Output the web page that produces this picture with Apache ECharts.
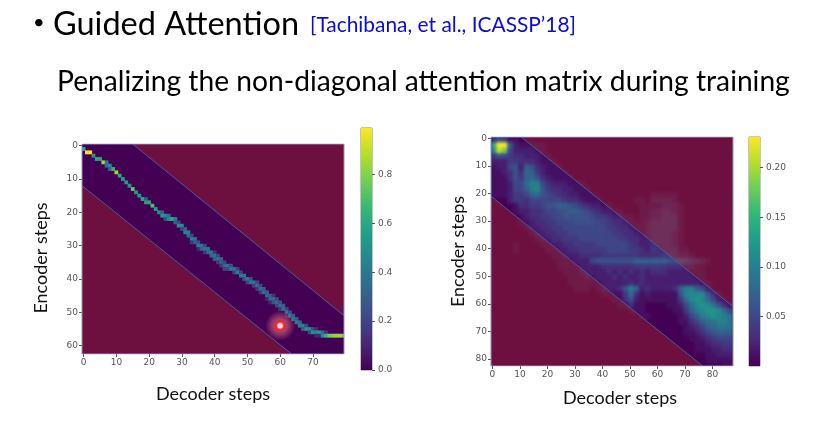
<!DOCTYPE html>
<html><head><meta charset="utf-8">
<style>html,body{margin:0;background:#fff}#chart{width:830px;height:430px;filter:blur(.5px)}</style>
<script src="https://cdn.jsdelivr.net/npm/echarts@6/dist/echarts.min.js"></script>
</head><body><div id="chart"></div>
<script>
const viridis=['#440154','#482878','#3e4989','#31688e','#26828e','#1f9e89','#35b779','#6ece58','#b5de2b','#fde725'];
const heading='Guided Attention', citation='[Tachibana, et al., ICASSP’18]', subtitle='Penalizing the non-diagonal attention matrix during training';
const xName='Decoder steps', yName='Encoder steps';
const leftBarTicks=[0,0.2,0.4,0.6,0.8], rightBarTicks=[0.05,0.1,0.15,0.2];
const leftMax=0.99, rightMax=0.231;
const leftCols=80, leftRows=63, rightCols=88, rightRowsCount=83;
// left matrix: one entry per decoder step: [first encoder row, cell values...]
const leftPath=[[1,.6],[2,.97],[2,.98],[3,.55],[4,.6],[4,.58],[5,.85],[5,.4,.35],[6,.5,.3],[7,.65],
[8,.85],[9,.6],[10,.55],[11,.55],[12,.55],[13,.75],[14,.55],[15,.55],[16,.6],[16,.3,.55],
[17,.6],[18,.7],[19,.55],[20,.5],[20,.3,.55],[21,.5,.25],[21,.35,.5],[22,.62],[22,.45,.3],[23,.2,.5],
[24,.5,.2],[25,.3,.45],[26,.45,.35],[27,.2,.45,.15],[28,.4,.3],[29,.25,.45,.1],[30,.4,.3],[30,.2,.42,.15],[31,.38,.35],[32,.4,.3],
[32,.15,.38,.3],[33,.2,.38,.15],[34,.3,.3,.15],[35,.2,.35,.2],[36,.4,.2],[36,.25,.4],[37,.42,.2],[37,.2,.45],[38,.2,.4],[39,.42,.25],
[40,.45,.2],[40,.25,.4],[41,.4,.2],[41,.2,.38,.15],[42,.2,.38,.15],[43,.3,.35],[44,.3,.35,.1],[45,.3,.35,.1],[45,.15,.35,.25],[46,.2,.35,.2],
[47,.25,.35,.15],[48,.3,.38],[49,.2,.4,.1],[50,.25,.42],[51,.3,.42],[52,.3,.42],[53,.35,.42],[54,.45,.3],[54,.2,.5],[55,.48,.2],
[55,.25,.5],[55,.12,.5,.1],[56,.55,.1],[56,.35,.5],[56,.15,.65],[57,.75],[57,.8],[57,.83],[57,.85],[57,.8]];
// right matrix: each string is 2 encoder steps; each character covers 2 decoder steps, in hundredths (a=10 ... n=23)
const rightGrid=[
"365110","enn7211111","bli5222211","46543322211","222443332111","1225627632 111","1123638742 1111","1113647863 21111",
"1112558aa5 3222111","1112557ab6 43322111","1112445786 5433221110 0000000001 1111",
"0002443555 5554332111 0000001102 2221",
"0000133445 6677654322 1100000111 1222 1",
"0000122334 5566776543 2211000112 23321",
"0000012334 4556666654 4322110112 23331",
"0000011233 4455566665 5433211123 33331",
"0000001223 3445555555 5443321123 33331",
"0000000122 3344555555 5544332123 33321",
"0000000012 2334445555 5554433223 33321",
"0000100001 1223344445 5555543223 33321",
"0000100000 1122334444 4555544324 333311",
"0000000000 0112223333 4444444333 3443221",
"0000000000 0011122256 6666667777 7766654321",
"0000000000 0011112222 3333334444 4433322110",
"0000000000 0001112222 2323232323 3322221110",
"0000000000 0000111212 2232322322 2222222110",
"0000000000 0000111111 2222232322 2222222211",
"0000000000 0000011101 2223 6a7 232 2223 7aa752",
"0000000000 0000000000 1111 483 121 1111 6abbb6 3100",
"0000000000 0000000000 0011 362 111 1111 48bcb8 5210",
"0000000000 0000000000 0001 131 100 0011 259bcb 9631",
"0000000000 0000000000 0000011100 0001 147abc cb85",
"0000000000 0000000000 0000000110 0000 1257ab cba9",
"0000000000 0000000000 0000000000 0000 113578 9aa9",
"0000000000 0000000000 0000000000 0000 012357 8999",
"0000000000 0000000000 0000000000 0000 011235 6777",
"0000000000 0000000000 0000000000 0000 001123 4555",
"0000000000 0000000000 0000000000 0000 000112 3344",
"0000000000 0000000000 0000000000 0000 000111 2233",
"0000000000 0000000000 0000000000 0000 000001 1222",
"0000000000 0000000000 0000000000 0000 000001 1111",
"0000000000 0000000000 0000000000 0000 000000 0011"];
const leftUpperMask=[[15,-.5],[79.5,-.5],[79.5,51]], leftLowerMask=[[-.5,12],[63.5,62.5],[-.5,62.5]];
const rightUpperMask=[[10.5,-.5],[87.5,-.5],[87.5,61]], rightLowerMask=[[-.5,21],[76.5,82.5],[-.5,82.5]];
const cursorPoint=[60,54];

const range=n=>Array.from({length:n},(_,i)=>String(i));
const leftData=[];
leftPath.forEach((e,c)=>e.slice(1).forEach((v,k)=>leftData.push([c,e[0]+k,v])));
const rightData=[];
rightGrid.forEach((s,r)=>{const t=s.replace(/ /g,'');
  for(let c=0;c<t.length;c++){const v=parseInt(t[c],24)/100;
    if(!v)continue;
    for(let dx=0;dx<2;dx++)for(let dy=0;dy<2;dy++){const x=c*2+dx,y=r*2+dy;
      if(x<rightCols&&y<rightRowsCount)rightData.push([x,y,v]);}}});

const frameCol='#8794bf', tickCol='#555', maskCol='rgba(205,54,17,.3)', edgeCol='#4a5a9e';
const font='"DejaVu Sans"';
const TOP=3;
const grids=[
 {left:82,top:144,width:262,height:210,show:true,backgroundColor:'#440154',borderWidth:0,zlevel:0},
 {left:82,top:144,width:262,height:210,zlevel:TOP},
 {left:361,top:128,width:11,height:242,show:true,borderColor:'#8a8a6a',borderWidth:1,backgroundColor:'transparent',zlevel:TOP},
 {left:491,top:137,width:242,height:229,show:true,backgroundColor:'#440154',borderWidth:0,zlevel:0},
 {left:491,top:137,width:242,height:229,zlevel:TOP},
 {left:749,top:137,width:11,height:229,show:true,borderColor:'#8a8a8a',borderWidth:1,backgroundColor:'transparent',zlevel:TOP}];
const tickShow=i=>i%10===0;
const catX=(g,n,gap,pad)=>({type:'category',gridIndex:g,zlevel:TOP,data:range(n),position:'bottom',splitLine:{show:false},axisLine:{show:false},
  axisTick:{show:true,length:3,alignWithLabel:true,interval:tickShow,lineStyle:{color:tickCol}},
  axisLabel:{interval:tickShow,fontSize:9,color:tickCol,fontFamily:font,margin:4},
  name:xName,nameLocation:'middle',nameGap:gap,nameTextStyle:{fontFamily:'Lato',fontSize:18,color:'#111',padding:pad}});
const catY=(g,n,gap,pad)=>({type:'category',gridIndex:g,zlevel:TOP,data:range(n),inverse:true,splitLine:{show:false},axisLine:{show:false},
  axisTick:{show:true,length:3,alignWithLabel:true,interval:tickShow,lineStyle:{color:tickCol}},
  axisLabel:{interval:tickShow,fontSize:9,color:tickCol,fontFamily:font,margin:4},
  name:yName,nameLocation:'middle',nameGap:gap,nameTextStyle:{fontFamily:'Lato',fontSize:18,color:'#111',padding:pad}});
const hideX=(g,max)=>({type:'value',gridIndex:g,min:-.5,max,show:false,splitLine:{show:false}});
const hideY=(g,max)=>({type:'value',gridIndex:g,min:-.5,max,inverse:true,show:false,splitLine:{show:false}});
const barX=g=>({type:'category',gridIndex:g,data:['scale'],show:false});
const barY=(g,max,ticks,dp)=>({type:'value',gridIndex:g,zlevel:TOP,min:0,max,position:'right',splitLine:{show:false},axisLine:{show:false},
  axisTick:{show:true,length:3,customValues:ticks,lineStyle:{color:tickCol}},
  axisLabel:{customValues:ticks,formatter:v=>v.toFixed(dp),fontSize:9,color:tickCol,fontFamily:font,margin:6}});
const maskSeries=(g,polys)=>({type:'custom',zlevel:TOP,xAxisIndex:g,yAxisIndex:g,z:3,silent:true,clip:false,data:polys.map((_,i)=>[i]),
  renderItem:(p,api)=>({type:'polygon',shape:{points:polys[p.dataIndex].map(q=>api.coord(q))},style:{fill:maskCol}})});
const edge=(g,pts,col)=>({type:'line',zlevel:TOP,xAxisIndex:g,yAxisIndex:g,z:4,silent:true,symbol:'none',data:pts,lineStyle:{color:col,width:1}});
const barSeries=(g,v)=>({type:'bar',zlevel:TOP,xAxisIndex:g,yAxisIndex:g,barWidth:'100%',silent:true,data:[v],
  itemStyle:{color:new echarts.graphic.LinearGradient(0,1,0,0,viridis.map((c,i)=>({offset:i/9,color:c})))}});
const frame=(xm,ym)=>[[-.5,-.5],[xm,-.5],[xm,ym],[-.5,ym],[-.5,-.5]];
const tt=(text,left,top,size,color)=>({text,left,top,zlevel:TOP,textStyle:{fontFamily:'Lato',fontSize:size,fontWeight:'normal',color}});

const chart=echarts.init(document.getElementById('chart'),null,{renderer:'canvas'});
chart.setOption({
 animation:false,backgroundColor:'#fff',
 title:[
  tt('•',28,8,20,'#000'),
  tt(heading,48,3,32.5,'#000'),
  tt(citation,305,10,20.9,'#0a0ae0'),
  tt(subtitle,52,63,28.2,'#000')],
 grid:grids,
 xAxis:[catX(0,leftCols,31,[0,0,0,0]),hideX(1,79.5),barX(2),catX(3,rightCols,23,[0,0,0,16]),hideX(4,87.5),barX(5)],
 yAxis:[catY(0,leftRows,32,[0,18,0,0]),hideY(1,62.5),barY(2,leftMax,leftBarTicks,1),catY(3,rightRowsCount,24,[0,0,0,0]),hideY(4,82.5),barY(5,rightMax,rightBarTicks,2)],
 visualMap:[
  {show:false,seriesIndex:0,min:0,max:leftMax,inRange:{color:viridis}},
  {show:false,seriesIndex:1,min:0,max:rightMax,inRange:{color:viridis}}],
 series:[
  {type:'heatmap',zlevel:2,xAxisIndex:0,yAxisIndex:0,data:leftData,progressive:0,silent:true,z:2},
  {type:'heatmap',zlevel:1,xAxisIndex:3,yAxisIndex:3,data:rightData,progressive:0,silent:true,z:2},
  maskSeries(1,[leftUpperMask,leftLowerMask]),
  maskSeries(4,[rightUpperMask,rightLowerMask]),
  edge(1,[leftUpperMask[0],leftUpperMask[2]],edgeCol),edge(1,leftLowerMask.slice(0,2),edgeCol),
  edge(4,[rightUpperMask[0],rightUpperMask[2]],edgeCol),edge(4,rightLowerMask.slice(0,2),edgeCol),
  edge(1,frame(79.5,62.5),frameCol),edge(4,frame(87.5,82.5),frameCol),
  barSeries(2,leftMax),barSeries(5,rightMax),
  {type:'scatter',zlevel:TOP,xAxisIndex:1,yAxisIndex:1,z:6,silent:true,symbolSize:30,data:[cursorPoint],
   itemStyle:{color:new echarts.graphic.RadialGradient(.5,.5,.5,[{offset:0,color:'rgba(255,90,90,.95)'},{offset:.45,color:'rgba(240,110,120,.7)'},{offset:1,color:'rgba(240,130,140,0)'}])}},
  {type:'scatter',zlevel:TOP,xAxisIndex:1,yAxisIndex:1,z:7,silent:true,symbolSize:8,data:[cursorPoint],
   itemStyle:{color:'#fff',borderColor:'#ff1a1a',borderWidth:2.5}}
 ]});
const blurLayer=(z,b,clip)=>{const c=document.querySelector('canvas[data-zr-dom-id="zr_'+z+'"]');if(c){c.style.filter='blur('+b+'px)';c.style.clipPath=clip;}};
blurLayer(1,1.7,'inset(137px 97px 64px 491px)');blurLayer(2,.6,'inset(144px 486px 76px 82px)');
</script></body></html>
